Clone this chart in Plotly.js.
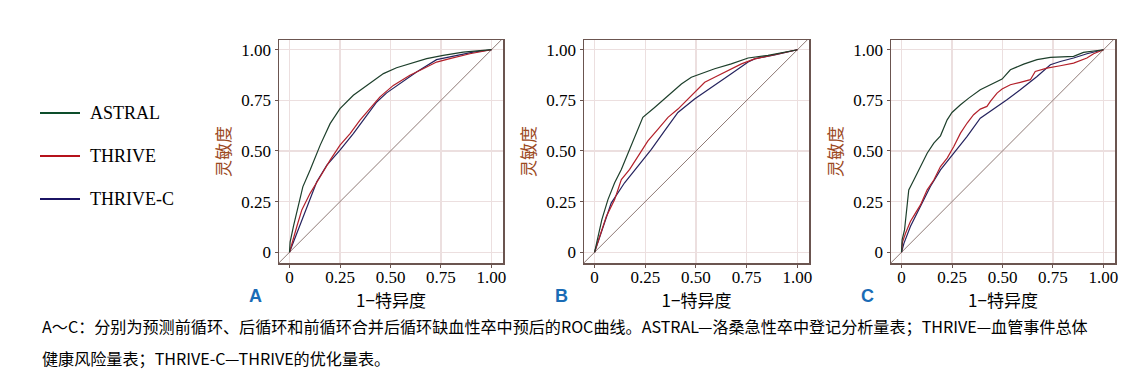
<!DOCTYPE html>
<html>
<head>
<meta charset="utf-8">
<script src="https://cdn.plot.ly/plotly-3.0.1.min.js"></script>
<style>
html,body{margin:0;padding:0;background:#fff;}
#chart{width:1138px;height:376px;}
</style>
</head>
<body>
<div id="chart"></div>
<script>
// ---------- data (1 - specificity, sensitivity) ----------
const seriesNames = ["ASTRAL", "THRIVE", "THRIVE-C"];
const panelLabels = ["A", "B", "C"];
const tickVals = [0, 0.25, 0.5, 0.75, 1];
const tickText = ["0", "0.25", "0.50", "0.75", "1.00"];
const diagX = [-0.2, 1.2];
const diagY = [-0.2, 1.2];

// Panel A
const aAstralX = [0, 0.003, 0.02, 0.040, 0.066, 0.102, 0.152, 0.201, 0.250, 0.316, 0.382, 0.465, 0.530, 0.596, 0.679, 0.761, 0.860, 1];
const aAstralY = [0, 0.05, 0.13, 0.209, 0.323, 0.406, 0.529, 0.635, 0.709, 0.775, 0.824, 0.882, 0.911, 0.931, 0.956, 0.972, 0.988, 1];
const aThriveX = [0, 0.012, 0.036, 0.061, 0.102, 0.152, 0.201, 0.250, 0.300, 0.349, 0.399, 0.448, 0.514, 0.596, 0.662, 0.728, 0.794, 0.893, 1];
const aThriveY = [0, 0.044, 0.126, 0.209, 0.291, 0.373, 0.455, 0.529, 0.586, 0.652, 0.709, 0.767, 0.824, 0.874, 0.906, 0.939, 0.956, 0.980, 1];
const aThriveCX = [0, 0.036, 0.086, 0.135, 0.185, 0.250, 0.316, 0.382, 0.432, 0.481, 0.547, 0.629, 0.728, 0.811, 0.909, 1];
const aThriveCY = [0, 0.094, 0.225, 0.348, 0.430, 0.504, 0.586, 0.672, 0.742, 0.787, 0.833, 0.890, 0.951, 0.967, 0.988, 1];

// Panel B
const bAstralX = [0, 0.016, 0.036, 0.066, 0.099, 0.132, 0.173, 0.206, 0.238, 0.296, 0.362, 0.428, 0.477, 0.526, 0.592, 0.674, 0.757, 0.855, 1];
const bAstralY = [0, 0.078, 0.161, 0.260, 0.343, 0.409, 0.508, 0.591, 0.666, 0.715, 0.773, 0.831, 0.864, 0.881, 0.906, 0.930, 0.959, 0.972, 1];
const bThriveX = [0, 0.025, 0.058, 0.099, 0.132, 0.173, 0.214, 0.263, 0.313, 0.362, 0.411, 0.461, 0.502, 0.543, 0.592, 0.658, 0.724, 0.789, 0.888, 1];
const bThriveY = [0, 0.078, 0.177, 0.260, 0.359, 0.409, 0.475, 0.550, 0.608, 0.666, 0.707, 0.757, 0.798, 0.839, 0.864, 0.897, 0.930, 0.955, 0.975, 1];
const bThriveCX = [0, 0.033, 0.082, 0.148, 0.214, 0.280, 0.345, 0.411, 0.493, 0.592, 0.674, 0.757, 0.789, 0.888, 1];
const bThriveCY = [0, 0.094, 0.243, 0.343, 0.425, 0.508, 0.599, 0.690, 0.757, 0.823, 0.881, 0.939, 0.955, 0.975, 1];

// Panel C
const cAstralX = [0, 0.003, 0.015, 0.036, 0.061, 0.094, 0.127, 0.160, 0.193, 0.226, 0.250, 0.292, 0.333, 0.390, 0.456, 0.498, 0.539, 0.605, 0.671, 0.737, 0.852, 0.901, 1];
const cAstralY = [0, 0.061, 0.110, 0.308, 0.357, 0.423, 0.489, 0.539, 0.575, 0.654, 0.690, 0.728, 0.761, 0.802, 0.835, 0.855, 0.901, 0.929, 0.951, 0.962, 0.967, 0.987, 1];
const cThriveX = [0, 0.005, 0.020, 0.044, 0.069, 0.094, 0.127, 0.160, 0.193, 0.226, 0.259, 0.292, 0.325, 0.357, 0.390, 0.423, 0.440, 0.473, 0.498, 0.539, 0.588, 0.638, 0.662, 0.720, 0.786, 0.852, 0.918, 0.951, 1];
const cThriveY = [0, 0.050, 0.094, 0.152, 0.193, 0.234, 0.308, 0.357, 0.423, 0.465, 0.522, 0.588, 0.638, 0.679, 0.707, 0.720, 0.745, 0.786, 0.806, 0.827, 0.839, 0.852, 0.893, 0.909, 0.921, 0.934, 0.959, 0.980, 1];
const cThriveCX = [0, 0.012, 0.044, 0.094, 0.143, 0.193, 0.259, 0.325, 0.390, 0.456, 0.522, 0.588, 0.671, 0.737, 0.786, 0.852, 0.918, 1];
const cThriveCY = [0, 0.044, 0.127, 0.226, 0.325, 0.407, 0.489, 0.572, 0.662, 0.707, 0.753, 0.802, 0.868, 0.926, 0.942, 0.959, 0.980, 1];

const panels = [
  {x: [aAstralX, aThriveX, aThriveCX], y: [aAstralY, aThriveY, aThriveCY]},
  {x: [bAstralX, bThriveX, bThriveCX], y: [bAstralY, bThriveY, bThriveCY]},
  {x: [cAstralX, cThriveX, cThriveCX], y: [cAstralY, cThriveY, cThriveCY]}
];

// ---------- styling ----------
const W = 1138, H = 376;
const lineColors = ["#1d3f2b", "#b3202a", "#25235e"];
const legendColors = ["#0d4d2b", "#b5121b", "#1b1464"];
const frameColor = "#6b5550";
const gridColor = "#ecdfdf";
const diagColor = "#8f7a76";
const domainsX = [[279 / W, 503 / W], [584 / W, 809 / W], [891 / W, 1115 / W]];
const domainY = [1 - 263 / H, 1 - 40 / H];
const tickFont = {family: "Liberation Serif, Times New Roman, serif", size: 17, color: "#000"};
const cjk = "Noto Sans CJK SC, sans-serif";

const traces = [];
const layout = {
  width: W, height: H,
  margin: {l: 0, r: 0, t: 0, b: 0},
  paper_bgcolor: "#fff", plot_bgcolor: "#fff",
  showlegend: false,
  annotations: [],
  shapes: []
};

panels.forEach((p, i) => {
  const sfx = i === 0 ? "" : String(i + 1);
  const xa = "x" + sfx, ya = "y" + sfx;
  traces.push({x: diagX, y: diagY, xaxis: xa, yaxis: ya, mode: "lines",
    line: {color: diagColor, width: 1}, hoverinfo: "skip"});
  for (let s = 2; s >= 0; s--) {
    traces.push({x: p.x[s], y: p.y[s], xaxis: xa, yaxis: ya, mode: "lines",
      name: seriesNames[s], line: {color: lineColors[s], width: 1.2}});
  }
  const common = {
    showline: true, mirror: true, linecolor: frameColor, linewidth: 1.5,
    showgrid: true, gridcolor: gridColor, gridwidth: 1.5, zeroline: false,
    ticks: "outside", ticklen: 3, tickcolor: frameColor, tickwidth: 1,
    tickmode: "array", tickvals: tickVals, ticktext: tickText, tickfont: tickFont,
    fixedrange: true
  };
  layout["xaxis" + sfx] = Object.assign({}, common, {
    domain: domainsX[i], range: [-0.052, 1.057], anchor: ya,
    ticklabelstandoff: -5,
    title: {text: "1−特异度", font: {family: cjk, size: 17, color: "#000"}, standoff: 0}
  });
  layout["yaxis" + sfx] = Object.assign({}, common, {
    domain: domainY, range: [-0.053, 1.048], anchor: xa,
    title: {text: "灵敏度", font: {family: cjk, size: 17, color: "#9c4a1e"}, standoff: 6}
  });
  // panel letter
  const letterX = [256, 561, 867][i];
  layout.annotations.push({
    xref: "paper", yref: "paper", x: letterX / W, y: 1 - 296 / H,
    xanchor: "center", yanchor: "middle", showarrow: false,
    text: "<b>" + panelLabels[i] + "</b>",
    font: {family: "Liberation Sans, Arial, sans-serif", size: 18, color: "#1a6cb6"}
  });
});

// custom legend
const legendY = [113, 156, 199];
seriesNames.forEach((n, s) => {
  layout.shapes.push({type: "line", xref: "paper", yref: "paper",
    x0: 40 / W, x1: 80 / W, y0: 1 - legendY[s] / H, y1: 1 - legendY[s] / H,
    line: {color: legendColors[s], width: 2}});
  layout.annotations.push({xref: "paper", yref: "paper", x: 88 / W, y: 1 - legendY[s] / H,
    xanchor: "left", yanchor: "middle", showarrow: false, text: n,
    font: {family: "Liberation Serif, Times New Roman, serif", size: 18, color: "#000"}});
});

// caption
const captionLines = [
  "A～C：分别为预测前循环、后循环和前循环合并后循环缺血性卒中预后的ROC曲线。ASTRAL—洛桑急性卒中登记分析量表；THRIVE—血管事件总体",
  "健康风险量表；THRIVE-C—THRIVE的优化量表。"
];
const captionY = [326, 358];
captionLines.forEach((t, k) => {
  layout.annotations.push({xref: "paper", yref: "paper", x: 40 / W, y: 1 - captionY[k] / H,
    xanchor: "left", yanchor: "middle", showarrow: false, text: t,
    font: {family: cjk, size: 16.1, color: "#000"}});
});

Plotly.newPlot("chart", traces, layout, {staticPlot: true, displayModeBar: false});
</script>
</body>
</html>
